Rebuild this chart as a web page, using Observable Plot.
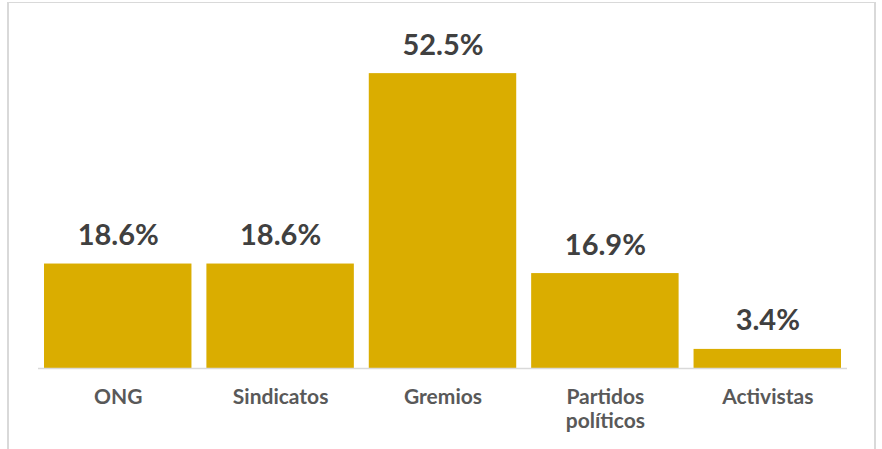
<!DOCTYPE html>
<html>
<head>
<meta charset="utf-8">
<script src="https://cdn.jsdelivr.net/npm/d3@7"></script>
<script src="https://cdn.jsdelivr.net/npm/@observablehq/plot@0.6"></script>
<style>
  html, body { margin: 0; padding: 0; background: #fff; }
  #wrap { position: relative; width: 882px; height: 449px; overflow: hidden; font-family: Lato, sans-serif; }
  #frame { position: absolute; left: 7px; top: 2px; width: 869px; height: 460px; border-left: 2px solid #d9d9d9; border-right: 2px solid #d9d9d9; border-top: 1px solid #d9d9d9; box-sizing: border-box; pointer-events: none; }
  #chart { position: absolute; left: 0; top: 0; }
</style>
</head>
<body>
<div id="wrap"><div id="chart"></div><div id="frame"></div></div>
<script>
const categories = ["ONG", "Sindicatos", "Gremios", "Partidos\npolíticos", "Activistas"];
const values = [18.6, 18.6, 52.5, 16.9, 3.4];
const valueLabels = ["18.6%", "18.6%", "52.5%", "16.9%", "3.4%"];

const data = categories.map((c, i) => ({cat: c, value: values[i], label: valueLabels[i]}));

const chart = Plot.plot({
  width: 882,
  height: 449,
  marginLeft: 38,
  marginRight: 35,
  marginTop: 31,
  marginBottom: 81,
  style: {fontFamily: "Lato, sans-serif", background: "transparent"},
  x: {domain: categories, paddingInner: 0.092, paddingOuter: 0.037, round: false, label: null},
  y: {domain: [0, 60], axis: null},
  marks: [
    Plot.barY(data, {x: "cat", y: "value", fill: "#DAAD00"}),
    Plot.ruleY([0], {stroke: "#d9d9d9", strokeWidth: 1.5}),
    Plot.text(data, {x: "cat", y: "value", text: "label", dy: -19, lineAnchor: "bottom", fontSize: 29, fontWeight: "bold", fill: "#404040"}),
    Plot.axisX({tickSize: 0, tickPadding: 18, fontSize: 21, fontWeight: "bold", fill: "#595959", lineAnchor: "top", lineHeight: 1.15, label: null})
  ]
});
document.getElementById("chart").appendChild(chart);
</script>
</body>
</html>
